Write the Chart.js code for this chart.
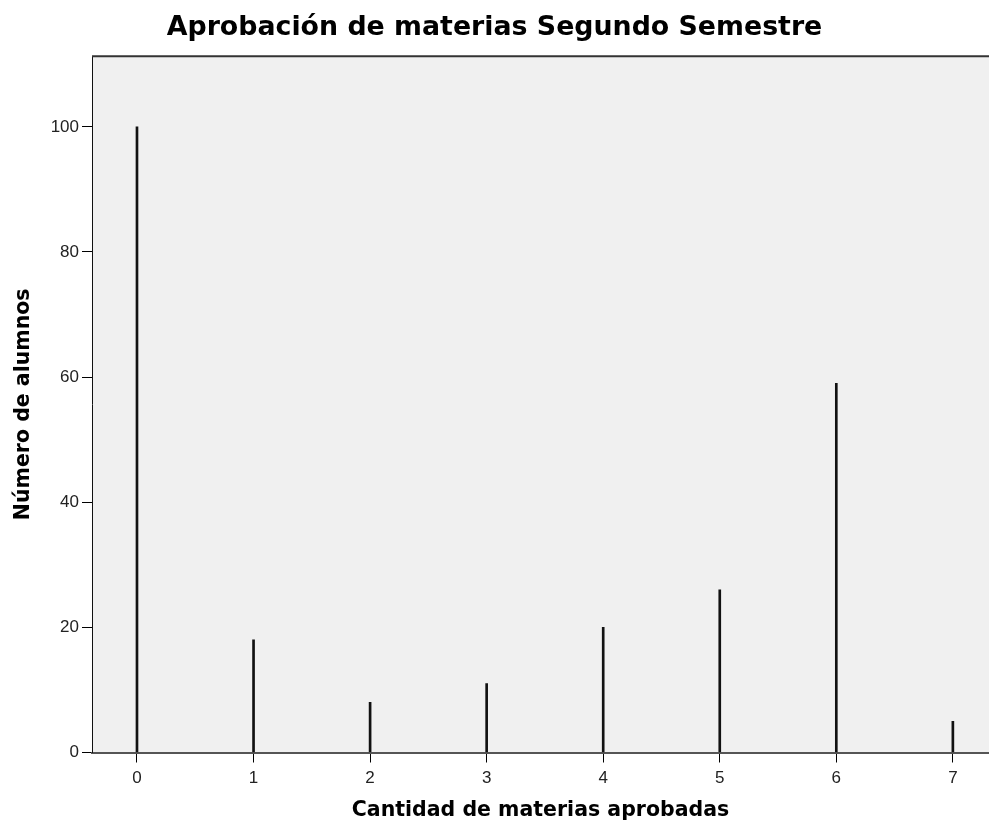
<!DOCTYPE html>
<html>
<head>
<meta charset="utf-8">
<script src="https://cdn.jsdelivr.net/npm/chart.js@4.4.3/dist/chart.umd.min.js"></script>
<style>
  html, body { margin: 0; padding: 0; background: #fff; }
  #wrap { width: 989px; height: 826px; }
</style>
</head>
<body>
<div id="wrap"><canvas id="chart"></canvas></div>
<script>
// materias aprobadas vs. número de alumnos
const categories = [0, 1, 2, 3, 4, 5, 6, 7];
const counts = [100, 18, 8, 11, 20, 26, 59, 5];
const xTicks = [0, 1, 2, 3, 4, 5, 6, 7];
const yTicks = [0, 20, 40, 60, 80, 100];

const FONT = '"Liberation Sans", Arial, sans-serif';
const BOLD = '"DejaVu Sans", Verdana, sans-serif';

const plotFrame = {
  id: 'plotFrame',
  beforeDraw(chart) {
    const { ctx, chartArea: a } = chart;
    ctx.save();
    ctx.fillStyle = '#fff';
    ctx.fillRect(0, 0, chart.width, chart.height);
    ctx.fillStyle = '#f0f0f0';
    ctx.fillRect(a.left, a.top, a.right - a.left, a.bottom - a.top);
    ctx.restore();
  },
  afterDraw(chart) {
    const { ctx, chartArea: a } = chart;
    ctx.save();
    ctx.strokeStyle = '#333';
    ctx.lineWidth = 2;
    ctx.beginPath();
    ctx.moveTo(a.left, a.top);
    ctx.lineTo(a.right, a.top);
    ctx.stroke();
    ctx.restore();
  }
};

new Chart(document.getElementById('chart'), {
  type: 'bar',
  data: {
    datasets: [{
      data: categories.map((c, i) => ({ x: c, y: counts[i] })),
      backgroundColor: '#111',
      barThickness: 2
    }]
  },
  plugins: [plotFrame],
  options: {
    responsive: true,
    maintainAspectRatio: false,
    animation: false,
    layout: { padding: { left: 0, right: 0, top: 0, bottom: 0 } },
    plugins: {
      legend: { display: false },
      tooltip: { enabled: false },
      title: {
        display: true,
        text: 'Aprobación de materias Segundo Semestre',
        color: '#000',
        font: { family: BOLD, size: 26.8, weight: 'bold' },
        padding: { top: 12, bottom: 12 }
      }
    },
    scales: {
      x: {
        type: 'linear',
        min: -0.386,
        max: 7.31,
        offset: false,
        afterBuildTicks: s => { s.ticks = xTicks.map(v => ({ value: v })); },
        afterFit: s => { s.height = 73.5; },
        grid: { drawOnChartArea: false, offset: false, tickLength: 10, color: '#000', tickWidth: 1 },
        border: { display: true, color: '#555', width: 2 },
        ticks: { color: '#222', font: { family: FONT, size: 17 }, padding: 6, maxRotation: 0 },
        title: {
          display: true,
          text: 'Cantidad de materias aprobadas',
          color: '#000',
          font: { family: BOLD, size: 20.5, weight: 'bold' },
          padding: { top: 0, bottom: 3 }
        }
      },
      y: {
        min: 0,
        max: 111.3,
        afterBuildTicks: s => { s.ticks = yTicks.map(v => ({ value: v })); },
        afterFit: s => { s.width = 92; },
        grid: { drawOnChartArea: false, tickLength: 10, color: '#000', tickWidth: 1 },
        border: { display: true, color: '#111', width: 1 },
        ticks: { color: '#222', font: { family: FONT, size: 17 }, padding: 3 },
        title: {
          display: true,
          text: 'Número de alumnos',
          color: '#000',
          font: { family: BOLD, size: 20.5, weight: 'bold' },
          padding: { top: 11, bottom: 0 }
        }
      }
    }
  }
});
</script>
</body>
</html>
